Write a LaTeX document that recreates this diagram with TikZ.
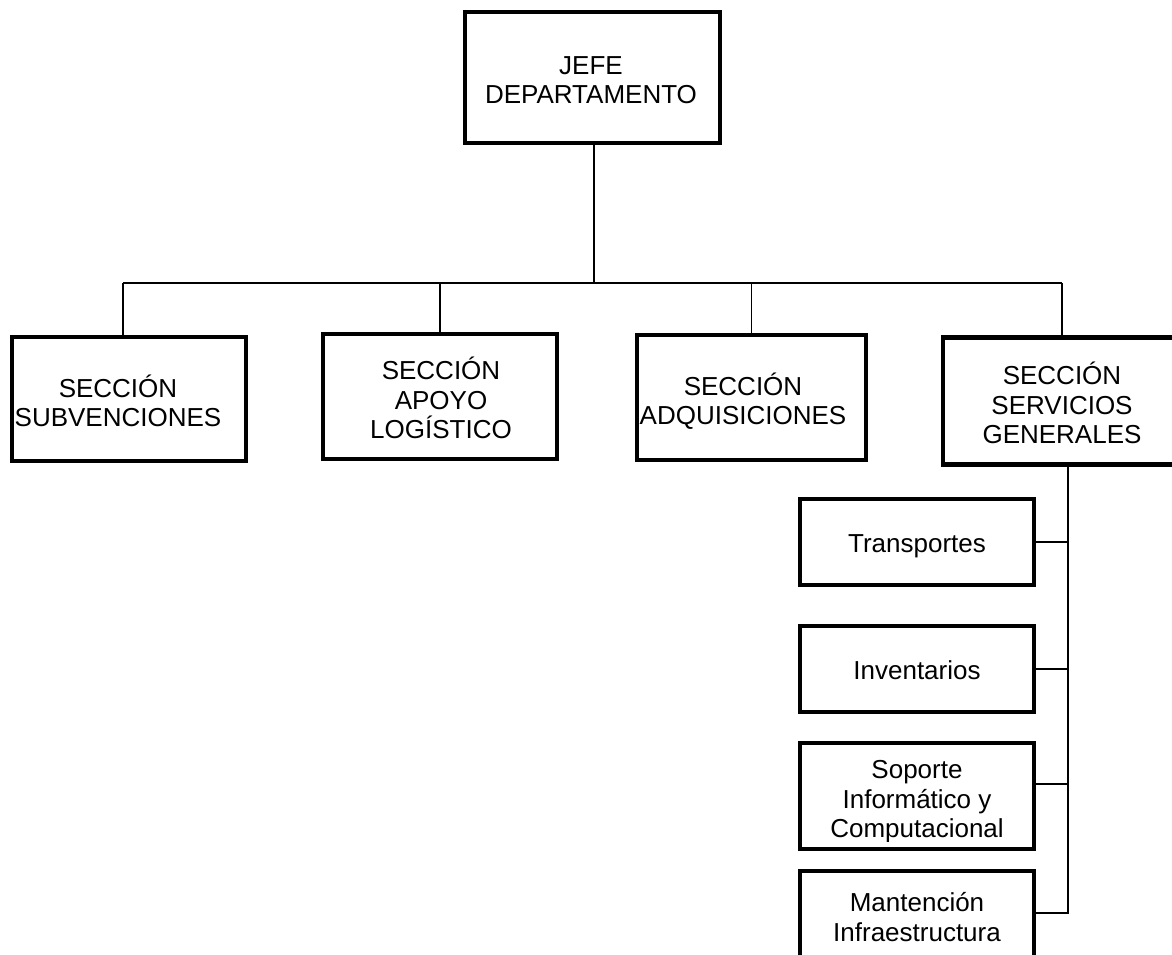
\documentclass[tikz,border=0pt]{standalone}
\usepackage{fontspec}
\setmainfont{Liberation Sans}
\begin{document}
\begin{tikzpicture}[x=1pt,y=-1pt,
  mainbox/.style={draw, line width=4.2pt, rectangle, inner sep=0pt},
  subbox/.style={draw, line width=3.2pt, rectangle, inner sep=0pt},
  txt/.style={align=center, font=\fontsize{26}{29.5}\selectfont, inner sep=0pt},
  link/.style={line width=1.3pt}]
\fill[white] (0,0) rectangle (1172,955);
\path[use as bounding box, clip] (0,0) rectangle (1172,955);

% top box
\node[mainbox, minimum width=255pt, minimum height=131pt] (jefe) at (592.5,77.5) {};
\node[txt] (jefet) at (591,80) {JEFE\\DEPARTAMENTO};

% sections
\node[mainbox, minimum width=234pt, minimum height=124pt] (b1) at (129,399) {};
\node[txt] (b1t) at (118,401) {SECCIÓN\\SUBVENCIONES};
\node[mainbox, minimum width=234pt, minimum height=125pt] (b2) at (440,396.5) {};
\node[txt] (b2t) at (441,398) {SECCIÓN\\APOYO\\LOGÍSTICO};
\node[mainbox, minimum width=229pt, minimum height=125pt] (b3) at (751.5,397.5) {};
\node[txt] (b3t) at (743,401) {SECCIÓN\\ADQUISICIONES};
\node[mainbox, minimum width=238pt, minimum height=127pt] (b4) at (1062,401) {};
\node[txt] (b4t) at (1062,403) {SECCIÓN\\SERVICIOS\\GENERALES};

% sub units
\node[subbox, minimum width=234pt, minimum height=86pt] (trans) at (917,542) {};
\node[txt] (transt) at (917,546) {Transportes};
\node[subbox, minimum width=234pt, minimum height=86pt] (inv) at (917,669) {};
\node[txt] (invt) at (917,670) {Inventarios};
\node[subbox, minimum width=234pt, minimum height=106pt] (sop) at (917,796) {};
\begin{scope}
  \clip (sop.north west) rectangle ([yshift=9pt]sop.south east);
  \node[txt] (sopt) at (917,802) {Soporte\\Informático y\\Computacional};
\end{scope}
\node[subbox, minimum width=234pt, minimum height=106pt] (mant) at (917,924) {};
\node[txt] (mantt) at (917,917) {Mantención\\Infraestructura};

% connectors
\coordinate (bus) at (594,283);
\coordinate (busL) at (123,283);
\coordinate (busR) at (1062,283);
\draw[link] (jefe.south -| bus) -- (bus);
\draw[link] (busL) -- (busR);
\draw[link] (busL) -- (busL |- b1.north);
\draw[link] (b2.north |- bus) -- (b2.north);
\draw[link] (b3.north |- bus) -- (b3.north);
\draw[link] (busR) -- (busR |- b4.north);

\coordinate (spine) at (1068,913);
\coordinate (sopc) at ([yshift=12pt]sop.east);
\draw[link] (b4.south -| spine) -- (spine) -- (mant.east |- spine);
\draw[link] (trans.east) -- (trans.east -| spine);
\draw[link] (inv.east) -- (inv.east -| spine);
\draw[link] (sopc) -- (sopc -| spine);
\end{tikzpicture}
\end{document}
